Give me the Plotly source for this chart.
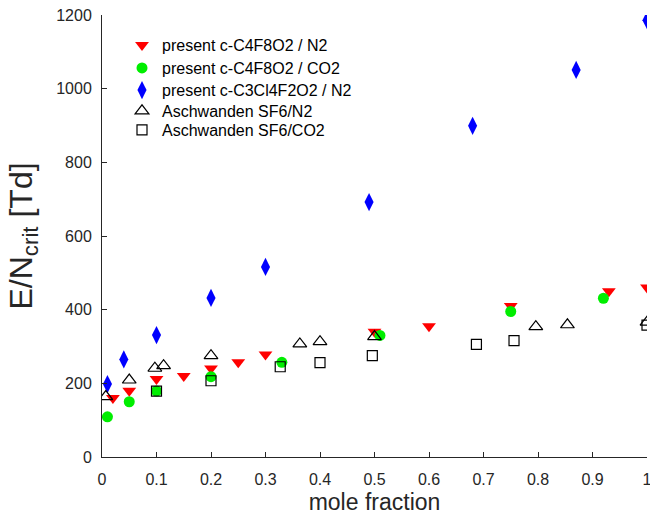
import plotly.graph_objects as go

# present c-C4F8O2 / N2
n2_x = [0.02, 0.05, 0.10, 0.15, 0.20, 0.25, 0.30, 0.50, 0.60, 0.75, 0.93, 1.00]
n2_y = [160, 180, 212, 220, 240, 257, 278, 340, 355, 410, 450, 460]

# present c-C4F8O2 / CO2
co2_x = [0.01, 0.05, 0.10, 0.20, 0.33, 0.51, 0.75, 0.92]
co2_y = [109, 150, 179, 218, 257, 330, 395, 431]

# present c-C3Cl4F2O2 / N2
cl_x = [0.01, 0.04, 0.10, 0.20, 0.30, 0.49, 0.68, 0.87, 1.00]
cl_y = [198, 265, 331, 432, 516, 692, 899, 1051, 1186]

# Aschwanden SF6/N2
sfn_x = [0.007, 0.05, 0.097, 0.113, 0.20, 0.363, 0.40, 0.50, 0.796, 0.854, 1.00]
sfn_y = [164, 209, 241, 248, 275, 307, 313, 327, 354, 359, 366]

# Aschwanden SF6/CO2
sfc_x = [0.10, 0.20, 0.327, 0.40, 0.496, 0.687, 0.756, 1.00]
sfc_y = [179, 207, 245, 256, 275, 306, 316, 358]

x_ticks = [0, 0.1, 0.2, 0.3, 0.4, 0.5, 0.6, 0.7, 0.8, 0.9, 1]
x_tick_labels = ["0", "0.1", "0.2", "0.3", "0.4", "0.5", "0.6", "0.7", "0.8", "0.9", "1"]
y_ticks = [0, 200, 400, 600, 800, 1000, 1200]

fig = go.Figure()
fig.add_trace(go.Scatter(x=n2_x, y=n2_y, mode="markers", name="present c-C4F8O2 / N2", legend="legend",
                         marker=dict(symbol="triangle-down", size=12, color="#ff0000", line=dict(width=0))))
fig.add_trace(go.Scatter(x=co2_x, y=co2_y, mode="markers", name="present c-C4F8O2 / CO2", legend="legend2",
                         marker=dict(symbol="circle", size=11, color="#00ee00", line=dict(width=0))))
fig.add_trace(go.Scatter(x=cl_x, y=cl_y, mode="markers", name="present c-C3Cl4F2O2 / N2", legend="legend3",
                         marker=dict(symbol="diamond-tall", size=13, color="#0000ff", line=dict(width=0))))
fig.add_trace(go.Scatter(x=sfn_x, y=sfn_y, mode="markers", name="Aschwanden SF6/N2", legend="legend4",
                         marker=dict(symbol="triangle-up-open", size=12, color="black", line=dict(width=1.2, color="black"))))
fig.add_trace(go.Scatter(x=sfc_x, y=sfc_y, mode="markers", name="Aschwanden SF6/CO2", legend="legend5",
                         marker=dict(symbol="square-open", size=10, color="black", line=dict(width=1.2, color="black"))))

axis_color = "#262626"


def leg(yv):
    return dict(x=0.0367, y=yv, xanchor="left", yanchor="middle", bgcolor="rgba(0,0,0,0)",
                font=dict(size=16, color="black"))


fig.update_layout(
    width=650, height=515,
    margin=dict(l=102, r=3, t=15, b=58),
    paper_bgcolor="white", plot_bgcolor="white",
    font=dict(family="Liberation Sans, Arial, sans-serif", color=axis_color, size=16),
    showlegend=True,
    legend=leg(0.932), legend2=leg(0.880), legend3=leg(0.830), legend4=leg(0.783), legend5=leg(0.740),
    xaxis=dict(range=[0, 1], tickvals=x_ticks, ticktext=x_tick_labels, showgrid=False, zeroline=False,
               showline=True, linecolor=axis_color, linewidth=1, ticks="inside", ticklen=5,
               tickcolor=axis_color, tickfont=dict(size=16), automargin=False,
               ticklabelstandoff=8, ticklabeloverflow="allow",
               title=dict(text="mole fraction", font=dict(size=23), standoff=11)),
    yaxis=dict(range=[0, 1200], tickvals=y_ticks, showgrid=False, zeroline=False,
               showline=True, linecolor=axis_color, linewidth=1, ticks="inside", ticklen=5,
               tickcolor=axis_color, tickfont=dict(size=16), automargin=False,
               ticklabelstandoff=6, ticklabeloverflow="allow",
               title=dict(text="E/N<sub>crit</sub> [Td]", font=dict(size=32), standoff=14)),
)
fig.write_html("out.html", config={"displayModeBar": False},
               post_script="document.body.style.margin='0px';")
